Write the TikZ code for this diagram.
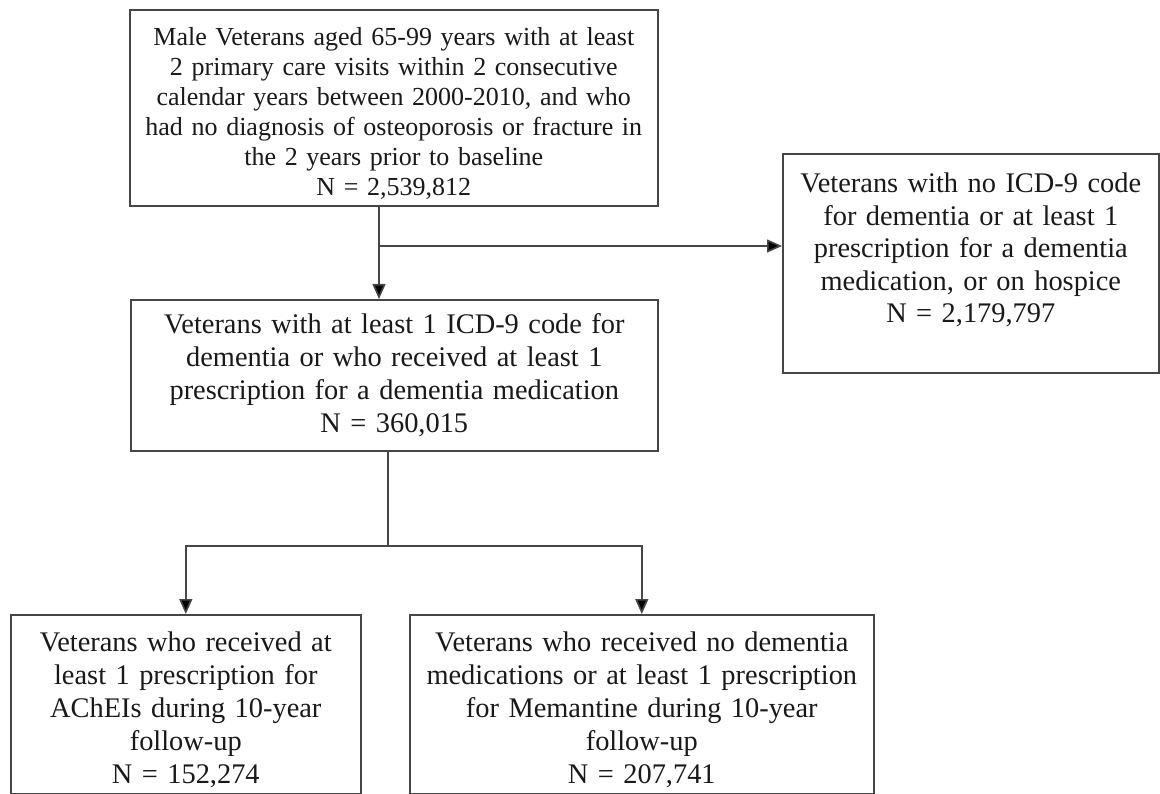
\documentclass[tikz,border=0pt]{standalone}
\usepackage{fontspec}
\setmainfont{Liberation Serif}
\usetikzlibrary{arrows.meta}
\definecolor{boxline}{RGB}{70, 70, 70}
\definecolor{boxtext}{RGB}{25, 25, 25}

\begin{document}
\begin{tikzpicture}[x=1pt, y=-1pt,
  box/.style={draw=boxline, line width=1.6pt, anchor=north west, align=center,
    inner xsep=2pt, inner ysep=0pt, text=boxtext,
    font=\fontsize{28.4pt}{33pt}\selectfont},
  arr/.style={draw=boxline, line width=1.6pt, -{Triangle[length=15pt, width=13pt, fill=black]}},
  link/.style={draw=boxline, line width=1.6pt}]
  \clip (0, 0) rectangle (1160, 794);

  % Ausgangskohorte
  \node[box, minimum width=528pt, minimum height=196pt, text width=524pt,
    font=\fontsize{26pt}{30pt}\selectfont] (base) at (129, 9)
    {\rule{0pt}{29pt}Male Veterans aged 65-99 years with at least\\
     2 primary care visits within 2 consecutive\\
     calendar years between 2000-2010, and who\\
     had no diagnosis of osteoporosis or fracture in\\
     the 2 years prior to baseline\\
     N = 2,539,812};

  % ausgeschlossen
  \node[box, minimum width=376pt, minimum height=219pt, text width=372pt,
    font=\fontsize{28.4pt}{32.5pt}\selectfont] (excl) at (782, 153)
    {Veterans with no ICD-9 code\\
     for dementia or at least 1\\
     prescription for a dementia\\
     medication, or on hospice\\
     N = 2,179,797\rule[-31pt]{0pt}{1pt}};

  % Demenz
  \node[box, minimum width=527pt, minimum height=151pt, text width=523pt] (dem) at (130, 299)
    {Veterans with at least 1 ICD-9 code for\\
     dementia or who received at least 1\\
     prescription for a dementia medication\\
     N = 360,015};

  % Gruppen
  \node[box, minimum width=350pt, minimum height=179pt, text width=346pt] (achei) at (10, 614)
    {\rule{0pt}{30pt}Veterans who received at\\
     least 1 prescription for\\
     AChEIs during 10-year\\
     follow-up\\
     N = 152,274};
  \node[box, minimum width=464pt, minimum height=179pt, text width=460pt] (meme) at (409, 614)
    {\rule{0pt}{30pt}Veterans who received no dementia\\
     medications or at least 1 prescription\\
     for Memantine during 10-year\\
     follow-up\\
     N = 207,741};

  % Pfeile
  \coordinate (split1) at (379, 246);
  \coordinate (split2) at (388, 546);
  \draw[arr] (base.south -| split1) -- (dem.north -| split1);
  \draw[arr] (split1) -- (excl.west |- split1);
  \draw[link] (dem.south -| split2) -- (split2);
  \draw[arr] (split2) -| (achei.north);
  \draw[arr] (split2) -| (meme.north);
\end{tikzpicture}
\end{document}
